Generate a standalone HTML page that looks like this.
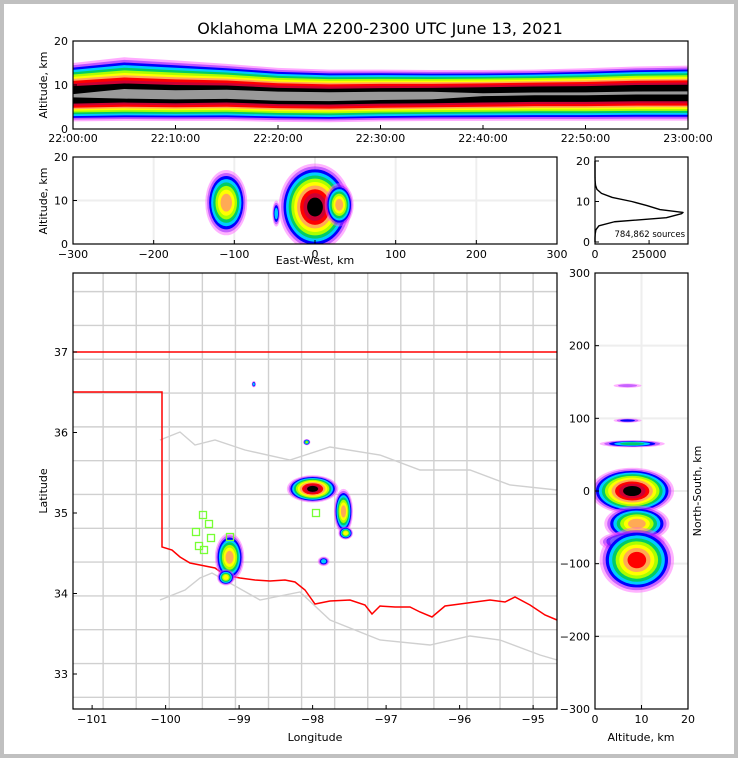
<!DOCTYPE html>
<html><head><meta charset="utf-8"><style>
body{margin:0;background:#c0c0c0;}
#wrap{position:absolute;left:4px;top:4px;width:730px;height:750px;background:#fff;}
svg{position:absolute;left:0;top:0;}
text{font-family:"DejaVu Sans","Liberation Sans",sans-serif;fill:#000;}
</style></head><body>
<div id="wrap"></div>
<svg id="s" width="738" height="758" viewBox="0 0 738 758"></svg>
<script>
// ---- data ----
const timeMinutes=[0,5,10,15,20,25,30,35,40,45,50,55,60];
const bandCenter=[7.5,7.8,7.6,7.8,7.4,7.3,7.5,7.6,7.8,8.0,8.0,8.2,8.2];
const bandUp=[7.5,8.5,8.0,7.0,6.5,6.2,6.0,5.8,5.6,5.5,5.8,6.0,6.2];
const bandDown=[6.8,7.0,6.8,7.0,6.8,6.8,6.8,6.8,7.0,7.2,7.2,7.4,7.4];
const bandIntensity=[0.85,0.9,0.9,0.95,1.0,1.0,0.95,0.9,0.85,0.8,0.8,0.78,0.78];
const timeTickLabels=["22:00:00","22:10:00","22:20:00","22:30:00","22:40:00","22:50:00","23:00:00"];
// EW-alt blobs: [ew km, alt km, half-width km, half-height km, peak level]
const ewBlobs=[[-110,9.5,26,7.5,7],[-48,7,5,3,3],[0,8.5,45,10,10],[30,9,18,5,7]];
// NS-alt blobs: [alt km, ns km, half-width alt, half-height ns, peak]
const nsBlobs=[[8,0,9,32,10],[9,-45,7,25,7],[8,-70,7,15,6],[9,-95,8,45,8],[8,65,7,5,4],[7,97,3,3,2],[7,145,3,3,1]];
// map blobs: [lon, lat, rx deg, ry deg, peak]
const mapBlobs=[[-98.0,35.3,0.35,0.17,10],[-97.58,35.02,0.13,0.28,7],[-97.55,34.75,0.1,0.08,6],[-99.13,34.45,0.2,0.3,7],[-99.18,34.2,0.12,0.1,6],[-97.85,34.4,0.08,0.06,3],[-98.08,35.88,0.05,0.04,5],[-98.8,36.6,0.03,0.04,3]];
const histAlt=[0,1,2,3,4,5,6,7,7.3,8,9,10,11,12,13,14,15,16,18,20];
const histCount=[0,0,100,400,1800,9000,33000,40000,40700,30000,24000,17000,8000,3000,900,250,60,10,0,0];
const sourceLabel="784,862 sources";
const colors=["#ff55ff","#8000ff","#0000ff","#00ccff","#00cc66","#aaff00","#ffff00","#ffaa55","#ff0000","#cc0033","#000000","#999999","#ffffff"];
const levelFrac=[1,0.93,0.86,0.79,0.72,0.65,0.58,0.52,0.46,0.38,0.3,0.14,0.05];
// ---- helpers ----
const NS="http://www.w3.org/2000/svg";
const svg=document.getElementById('s');
function mk(tag,attrs,parent){const e=document.createElementNS(NS,tag);for(const k in attrs)e.setAttribute(k,attrs[k]);(parent||svg).appendChild(e);return e;}
function txt(x,y,s,size,anchor,parent,rot){const t=mk('text',{x:x,y:y,'font-size':size,'text-anchor':anchor||'middle'},parent);if(rot)t.setAttribute('transform','rotate(-90 '+x+' '+y+')');t.textContent=s;return t;}
const title=txt(380,34,"Oklahoma LMA 2200-2300 UTC June 13, 2021",16);


// ---- top time-height panel ----
const T={x0:73,x1:688,y0:41,y1:129};
const tx=m=>T.x0+m/60*(T.x1-T.x0), ty=a=>T.y1-a/20*(T.y1-T.y0);
mk('clipPath',{id:'cTop'}).appendChild(mk('rect',{x:T.x0,y:T.y0,width:T.x1-T.x0,height:T.y1-T.y0},mk('g',{})));
const gTop=mk('g',{'clip-path':'url(#cTop)'});

const nLev=colors.length;
for(let k=0;k<12;k++){
  let up=[],dn=[];
  for(let i=0;i<timeMinutes.length;i++){
    let ff=levelFrac[k];
    if(k>=11) ff*=bandIntensity[i]>0.85?1.2*bandIntensity[i]:0.4;
    up.push([tx(timeMinutes[i]),ty(bandCenter[i]+bandUp[i]*ff)]);
    dn.push([tx(timeMinutes[i]),ty(bandCenter[i]-bandDown[i]*ff*0.85)]);
  }
  const pts=up.concat(dn.reverse()).map(p=>p.join(',')).join(' ');
  const p=mk('polygon',{points:pts,fill:colors[k],'fill-opacity':k<2?0.5:1},gTop);
  
}
function frame(P,name){const r=mk('rect',{x:P.x0,y:P.y0,width:P.x1-P.x0,height:P.y1-P.y0,fill:'none',stroke:'#000','stroke-width':1.2});}
frame(T,'time-height-frame');
timeTickLabels.forEach((l,i)=>{const x=tx(i*10);mk('line',{x1:x,x2:x,y1:T.y1,y2:T.y1-4,stroke:'#000'});txt(x,142,l,11);});
[0,10,20].forEach(v=>{mk('line',{x1:T.x0,x2:T.x0+4,y1:ty(v),y2:ty(v),stroke:'#000'});txt(68,ty(v)+4,String(v),11,'end');});
txt(47,85,"Altitude, km",11,'middle',null,true);

// ---- blob drawing ----
function blobs(list,fx,fy,sx,sy,g){
  list.forEach((b,bi)=>{
    const peak=b[4];
    for(let k=0;k<=peak&&k<nLev;k++){
      const f=Math.pow(1-k/(peak+1.5),0.75);
      const e=mk('ellipse',{cx:fx(b[0]),cy:fy(b[1]),rx:Math.abs(sx(b[2]))*f,ry:Math.abs(sy(b[3]))*f,fill:colors[k],'fill-opacity':k<2?0.45:1},g);
      
    }
  });
}
// ---- EW-alt panel ----
const E={x0:73,x1:557,y0:157,y1:244};
const ex=v=>E.x0+(v+300)/600*(E.x1-E.x0), ey=a=>E.y1-a/20*(E.y1-E.y0);
mk('clipPath',{id:'cE'}).appendChild(mk('rect',{x:E.x0,y:E.y0,width:E.x1-E.x0,height:E.y1-E.y0},mk('g',{})));
const gE=mk('g',{'clip-path':'url(#cE)'});
[-200,-100,0,100,200].forEach(v=>mk('line',{x1:ex(v),x2:ex(v),y1:E.y0,y2:E.y1,stroke:'#eee','stroke-width':2},gE));
mk('line',{x1:E.x0,x2:E.x1,y1:ey(10),y2:ey(10),stroke:'#eee','stroke-width':2},gE);
blobs(ewBlobs,ex,ey,d=>d/600*(E.x1-E.x0),d=>d/20*(E.y1-E.y0),gE);
frame(E,'ew-altitude-frame');
[-300,-200,-100,0,100,200,300].forEach(v=>{mk('line',{x1:ex(v),x2:ex(v),y1:E.y1,y2:E.y1-4,stroke:'#000'});txt(ex(v),258,String(v).replace('-','−'),11);});
[0,10,20].forEach(v=>{mk('line',{x1:E.x0,x2:E.x0+4,y1:ey(v),y2:ey(v),stroke:'#000'});txt(68,ey(v)+4,String(v),11,'end');});
txt(47,201,"Altitude, km",11,'middle',null,true);
txt(315,264,"East-West, km",11);

// ---- histogram ----
const H={x0:595,x1:688,y0:157,y1:244};
const hx=c=>H.x0+c/43000*(H.x1-H.x0), hy=a=>242-a/20*81;
frame(H,'histogram-frame');
const hp=mk('polyline',{points:histAlt.map((a,i)=>hx(histCount[i])+','+hy(a)).join(' '),fill:'none',stroke:'#000','stroke-width':1.4,'stroke-linejoin':'round'});

[0,10,20].forEach(v=>{mk('line',{x1:H.x0,x2:H.x0+4,y1:hy(v),y2:hy(v),stroke:'#000'});txt(590,hy(v)+4,String(v),11,'end');});
[0,25000].forEach(v=>{mk('line',{x1:hx(v),x2:hx(v),y1:H.y1,y2:H.y1-4,stroke:'#000'});txt(hx(v),258,String(v),11);});
const sl=txt(685,237,sourceLabel,8.5,'end');

// ---- map ----
const M={x0:73,x1:557,y0:273,y1:709};
const mx=lon=>M.x0+(lon+101.26)*73.5, my=lat=>352+(37-lat)*80.5;
mk('clipPath',{id:'cM'}).appendChild(mk('rect',{x:M.x0,y:M.y0,width:M.x1-M.x0,height:M.y1-M.y0},mk('g',{})));
const gM=mk('g',{'clip-path':'url(#cM)'});
const gC=mk('g',{stroke:'#d0d0d0','stroke-width':1.4,fill:'none'},gM);
for(let lon=-100.85;lon<-94.6;lon+=0.45){mk('line',{x1:mx(lon),x2:mx(lon),y1:M.y0,y2:M.y1},gC);}
for(let lat=37.75;lat>32.5;lat-=0.42){mk('line',{x1:M.x0,x2:M.x1,y1:my(lat),y2:my(lat)},gC);}
mk('polyline',{points:'160,600 185,590 200,578 212,573 260,600 300,592 330,620 380,640 430,645 470,636 500,640 540,655 557,660'},gC);
mk('polyline',{points:'160,440 180,432 195,445 215,440 245,450 290,460 330,447 380,455 420,470 470,470 510,485 557,490'},gC);
const rr=[[162,547],[172,550],[180,557],[190,563],[200,565],[215,568],[225,575],[240,578],[255,580],[270,581],[285,580],[295,582],[305,590],[315,604],[330,601],[350,600],[365,605],[372,614],[380,606],[395,607],[410,607],[420,612],[432,617],[445,606],[460,604],[475,602],[490,600],[505,602],[515,597],[530,605],[545,615],[557,620]];
const red=mk('polyline',{points:'73,392 162,392 162,547 '+rr.map(p=>p.join(',')).join(' '),fill:'none',stroke:'#ff0000','stroke-width':1.5},gM);

mk('line',{x1:73,x2:557,y1:my(37),y2:my(37),stroke:'#ff0000','stroke-width':1.5},gM);
blobs(mapBlobs,mx,my,d=>d*73.5,d=>d*80.5,gM);
[[203,515],[209,524],[196,532],[211,538],[199,546],[204,550],[230,537],[316,513]].forEach((p,i)=>{const r=mk('rect',{x:p[0]-3.5,y:p[1]-3.5,width:7,height:7,fill:'none',stroke:'#77ff33','stroke-width':1.3},gM);});
frame(M,'map-frame');
[-101,-100,-99,-98,-97,-96,-95].forEach(v=>{mk('line',{x1:mx(v),x2:mx(v),y1:M.y1,y2:M.y1-4,stroke:'#000'});txt(mx(v),723,String(v).replace('-','−'),11);});
[37,36,35,34,33].forEach(v=>{mk('line',{x1:M.x0,x2:M.x0+4,y1:my(v),y2:my(v),stroke:'#000'});txt(68,my(v)+4,String(v),11,'end');});
txt(315,741,"Longitude",11);
txt(47,491,"Latitude",11,'middle',null,true);

// ---- NS-alt panel ----
const N={x0:595,x1:688,y0:273,y1:709};
const nx=a=>N.x0+a/20*(N.x1-N.x0), ny=v=>491-v*(N.y1-N.y0)/600;
mk('clipPath',{id:'cN'}).appendChild(mk('rect',{x:N.x0,y:N.y0,width:N.x1-N.x0,height:N.y1-N.y0},mk('g',{})));
const gN=mk('g',{'clip-path':'url(#cN)'});
mk('line',{x1:nx(10),x2:nx(10),y1:N.y0,y2:N.y1,stroke:'#eee','stroke-width':2},gN);
[-200,-100,0,100,200].forEach(v=>mk('line',{x1:N.x0,x2:N.x1,y1:ny(v),y2:ny(v),stroke:'#eee','stroke-width':2},gN));
blobs(nsBlobs,nx,ny,d=>d/20*(N.x1-N.x0),d=>d*(N.y1-N.y0)/600,gN);
frame(N,'ns-altitude-frame');
[300,200,100,0,-100,-200,-300].forEach(v=>{mk('line',{x1:N.x0,x2:N.x0+4,y1:ny(v),y2:ny(v),stroke:'#000'});txt(590,ny(v)+4,String(v).replace('-','−'),11,'end');});
[0,10,20].forEach(v=>{mk('line',{x1:nx(v),x2:nx(v),y1:N.y1,y2:N.y1-4,stroke:'#000'});txt(nx(v),723,String(v),11);});
txt(641,741,"Altitude, km",11);
txt(701,491,"North-South, km",11,'middle',null,true);
</script>
</body></html>
